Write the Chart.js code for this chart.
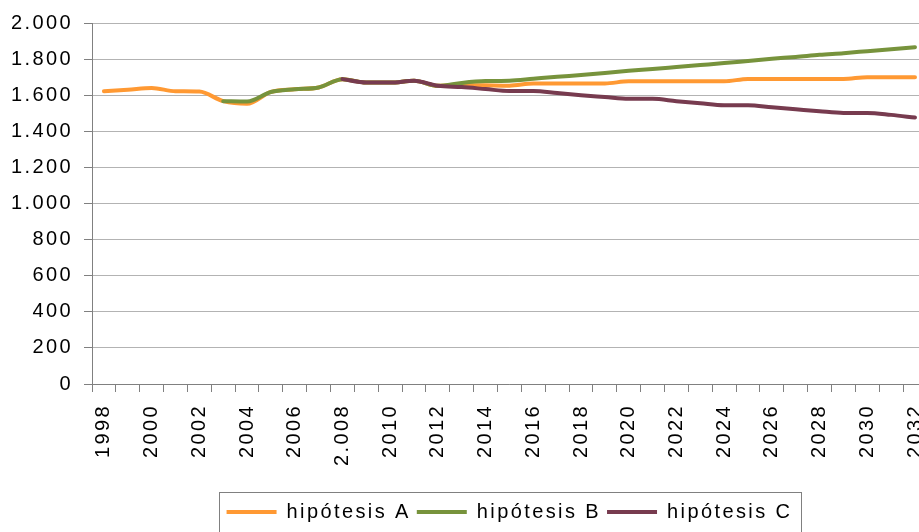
<!DOCTYPE html>
<html>
<head>
<meta charset="utf-8">
<script src="https://cdn.jsdelivr.net/npm/chart.js@4/dist/chart.umd.min.js"></script>
<style>
  html, body { margin: 0; padding: 0; background: #ffffff; overflow: hidden; width: 919px; height: 532px; }
  #wrap { position: absolute; left: 0; top: 0; width: 951px; height: 532px; }
</style>
</head>
<body>
<div id="wrap"><canvas id="c"></canvas></div>
<script>
// ---- data ----
const years = ['1998','1999','2000','2001','2002','2003','2004','2005','2006','2007','2008','2009','2010','2011','2012','2013','2014','2015','2016','2017','2018','2019','2020','2021','2022','2023','2024','2025','2026','2027','2028','2029','2030','2031','2032'];
const xTickLabels = ['1998','','2000','','2002','','2004','','2006','','2.008','','2010','','2012','','2014','','2016','','2018','','2020','','2022','','2024','','2026','','2028','','2030','','2032'];
const hipotesisA = [1622,1630,1640,1622,1620,1567,1552,1618,1633,1643,1689,1670,1670,1680,1652,1657,1655,1653,1665,1665,1665,1665,1677,1677,1677,1677,1677,1690,1690,1690,1690,1690,1700,1700,1700];
const hipotesisB = [null,null,null,null,null,1567,1565,1618,1633,1643,1689,1670,1670,1680,1652,1668,1678,1680,1691,1702,1712,1723,1735,1745,1756,1767,1778,1790,1802,1812,1824,1833,1844,1855,1866];
const hipotesisC = [null,null,null,null,null,null,null,null,null,null,1689,1670,1670,1680,1652,1645,1634,1623,1623,1612,1600,1590,1580,1580,1567,1555,1544,1544,1533,1522,1511,1502,1502,1491,1476];
const seriesNames = ['hipótesis A','hipótesis B','hipótesis C'];
const yTicks = [0,200,400,600,800,1000,1200,1400,1600,1800,2000];
const yTickLabels = ['0','200','400','600','800','1.000','1.200','1.400','1.600','1.800','2.000'];

const FONT = "'Liberation Sans', Arial, sans-serif";
const SPACING = '2.4px';

const spacingPlugin = {
  id: 'spacing',
  beforeUpdate(chart) { chart.ctx.letterSpacing = SPACING; },
  beforeLayout(chart) { chart.ctx.letterSpacing = SPACING; },
  beforeDraw(chart) { chart.ctx.letterSpacing = SPACING; }
};

const legendBox = {
  id: 'legendBox',
  afterDraw(chart) {
    const hb = chart.legend && chart.legend.legendHitBoxes;
    if (!hb || !hb.length) return;
    const ctx = chart.ctx;
    const left = Math.round(Math.min(...hb.map(h => h.left)) - 8);
    const right = Math.round(Math.max(...hb.map(h => h.left + h.width)) + 9);
    const top = Math.round(hb[0].top + hb[0].height / 2 - 20);
    ctx.save();
    ctx.strokeStyle = '#808080';
    ctx.lineWidth = 1;
    ctx.strokeRect(left + 0.5, top + 0.5, right - left, 80);
    ctx.restore();
  }
};

const colors = ['#FF9933', '#77933C', '#773B4F'];
const seriesData = [hipotesisA, hipotesisB, hipotesisC];

new Chart(document.getElementById('c'), {
  type: 'line',
  data: {
    labels: years,
    datasets: seriesData.map((d, i) => ({
      label: seriesNames[i],
      data: d,
      borderColor: colors[i],
      backgroundColor: colors[i],
      borderWidth: 4,
      pointRadius: 0,
      pointHoverRadius: 0,
      pointStyle: 'line',
      cubicInterpolationMode: 'monotone',
      borderCapStyle: 'round',
      borderJoinStyle: 'round',
      fill: false,
      order: 3 - i
    }))
  },
  options: {
    responsive: true,
    maintainAspectRatio: false,
    animation: false,
    devicePixelRatio: 1,
    layout: { padding: { top: 23, left: 0, right: 0, bottom: 0 } },
    plugins: {
      tooltip: { enabled: false },
      title: { display: false },
      legend: {
        display: true,
        position: 'bottom',
        fullSize: false,
        labels: {
          usePointStyle: true,
          pointStyle: 'line',
          pointStyleWidth: 50,
          padding: 6,
          color: '#000000',
          font: { family: FONT, size: 20 },
          sort: (a, b) => a.datasetIndex - b.datasetIndex
        }
      }
    },
    scales: {
      x: {
        type: 'category',
        offset: true,
        afterFit(scale) { scale.height = 112; },
        grid: {
          display: true,
          offset: true,
          drawOnChartArea: false,
          drawTicks: true,
          tickLength: 8,
          tickColor: '#808080'
        },
        border: { display: true, color: '#808080', width: 1 },
        ticks: {
          autoSkip: false,
          maxRotation: 90,
          minRotation: 90,
          padding: 12,
          color: '#000000',
          font: { family: FONT, size: 20 },
          callback: (v, i) => xTickLabels[i]
        }
      },
      y: {
        min: 0,
        max: 2000,
        afterFit(scale) { scale.width = 92; },
        afterBuildTicks(scale) { scale.ticks = yTicks.map(v => ({ value: v })); },
        grid: {
          color: '#B3B3B3',
          lineWidth: 1,
          drawTicks: true,
          tickLength: 8,
          tickColor: '#808080'
        },
        border: { display: true, color: '#808080', width: 1 },
        ticks: {
          padding: 11,
          color: '#000000',
          font: { family: FONT, size: 20 },
          callback: (v) => yTickLabels[yTicks.indexOf(v)]
        }
      }
    }
  },
  plugins: [spacingPlugin, legendBox]
});
</script>
</body>
</html>
